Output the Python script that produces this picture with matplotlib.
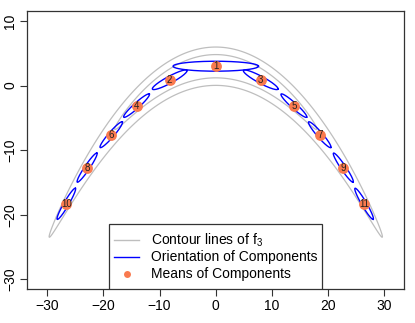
import numpy as np
import matplotlib
matplotlib.use("Agg")
from matplotlib import pyplot as plt
from matplotlib.patches import Rectangle

plt.rcParams['font.family'] = ['Liberation Sans', 'DejaVu Sans']

# means of the mixture components
comp_id = [1, 2, 3, 4, 5, 6, 7, 8, 9, 10, 11]
mean_x = [0.0, -8.2, 8.0, -14.1, 13.9, -18.6, 18.5, -22.9, 22.7, -26.6, 26.4]
mean_y = [3.0, 0.9, 0.9, -3.1, -3.1, -7.6, -7.6, -12.7, -12.7, -18.3, -18.3]
# ellipse orientation (deg, data coords), semi-major and semi-minor axes
ell_angle = [0, 25, -25, 38, -38, 45, -45, 52, -52, 56, -56]
ell_major = [7.6, 3.4, 3.4, 2.9, 2.9, 2.8, 2.8, 2.85, 2.85, 2.9, 2.9]
ell_minor = [0.77, 0.55, 0.55, 0.45, 0.45, 0.45, 0.45, 0.42, 0.42, 0.42, 0.42]

legend_labels = ['Contour lines of $\\mathregular{f_3}$',
                 'Orientation of Components',
                 'Means of Components']

# banana shaped target f3 and the levels drawn (log density)
b = 0.03
levels = [-4.4, -1.62]

grey = '#bebebe'
orange = '#f97a4f'


def log_f3(x, y):
    return -x**2 / 200 - (y + b * x**2 - 100 * b)**2 / 2


fig = plt.figure(figsize=(4.15, 3.23), dpi=100)
ax = fig.add_axes([0.065, 0.105, 0.9085, 0.861])

gx = np.linspace(-31, 31, 800)
gy = np.linspace(-30, 10, 800)
X, Y = np.meshgrid(gx, gy)
ax.contour(X, Y, log_f3(X, Y), levels=levels, colors=grey,
           linewidths=0.9, linestyles='solid')

t = np.linspace(0, 2 * np.pi, 200)
for cx, cy, ang, a, bb in zip(mean_x, mean_y, ell_angle, ell_major, ell_minor):
    phi = np.deg2rad(ang)
    ex = cx + a * np.cos(t) * np.cos(phi) - bb * np.sin(t) * np.sin(phi)
    ey = cy + a * np.cos(t) * np.sin(phi) + bb * np.sin(t) * np.cos(phi)
    ax.plot(ex, ey, color='blue', lw=1.0)

ax.plot(mean_x, mean_y, 'o', color=orange, ms=7.8, mec='none')
for i, x, y in zip(comp_id, mean_x, mean_y):
    ax.text(x, y, str(i), ha='center', va='center', fontsize=7, color='#222222')

ax.set_xlim(-33.6, 33.5)
ax.set_ylim(-31.5, 11.55)
ax.set_xticks([-30, -20, -10, 0, 10, 20, 30])
ax.set_yticks([-30, -20, -10, 0, 10])
ax.set_xticklabels(['\u221230', '\u221220', '\u221210', '0', '10', '20', '30'])
ax.set_yticklabels(['\u221230', '\u221220', '\u221210', '0', '10'], rotation=90, va='center')
ax.tick_params(labelsize=10, length=5, width=0.8, color='#333333', pad=2)
for s in ax.spines.values():
    s.set_color('#333333')
    s.set_linewidth(0.9)

# legend box drawn R style, sitting on the bottom axis
tr = ax.transAxes
lx0, lx1, ly1 = 0.2183, 0.7825, 0.2338
ax.add_patch(Rectangle((lx0, 0), lx1 - lx0, ly1, transform=tr, fill=True,
                       facecolor='white', edgecolor='#333333', lw=0.9, zorder=5))
row_y = [0.1765, 0.1143, 0.0540]
hx0, hx1, tx = 0.2315, 0.2978, 0.3282
ax.plot([hx0, hx1], [row_y[0]] * 2, transform=tr, color=grey, lw=1.0, zorder=6)
ax.plot([hx0, hx1], [row_y[1]] * 2, transform=tr, color='blue', lw=1.0, zorder=6)
ax.plot([(hx0 + hx1) / 2], [row_y[2]], 'o', transform=tr, color=orange,
        ms=5, mec='none', zorder=6)
for lab, ry in zip(legend_labels, row_y):
    ax.text(tx, ry, lab, transform=tr, ha='left', va='center', fontsize=10, zorder=6)

plt.savefig('out.png', dpi=100)
